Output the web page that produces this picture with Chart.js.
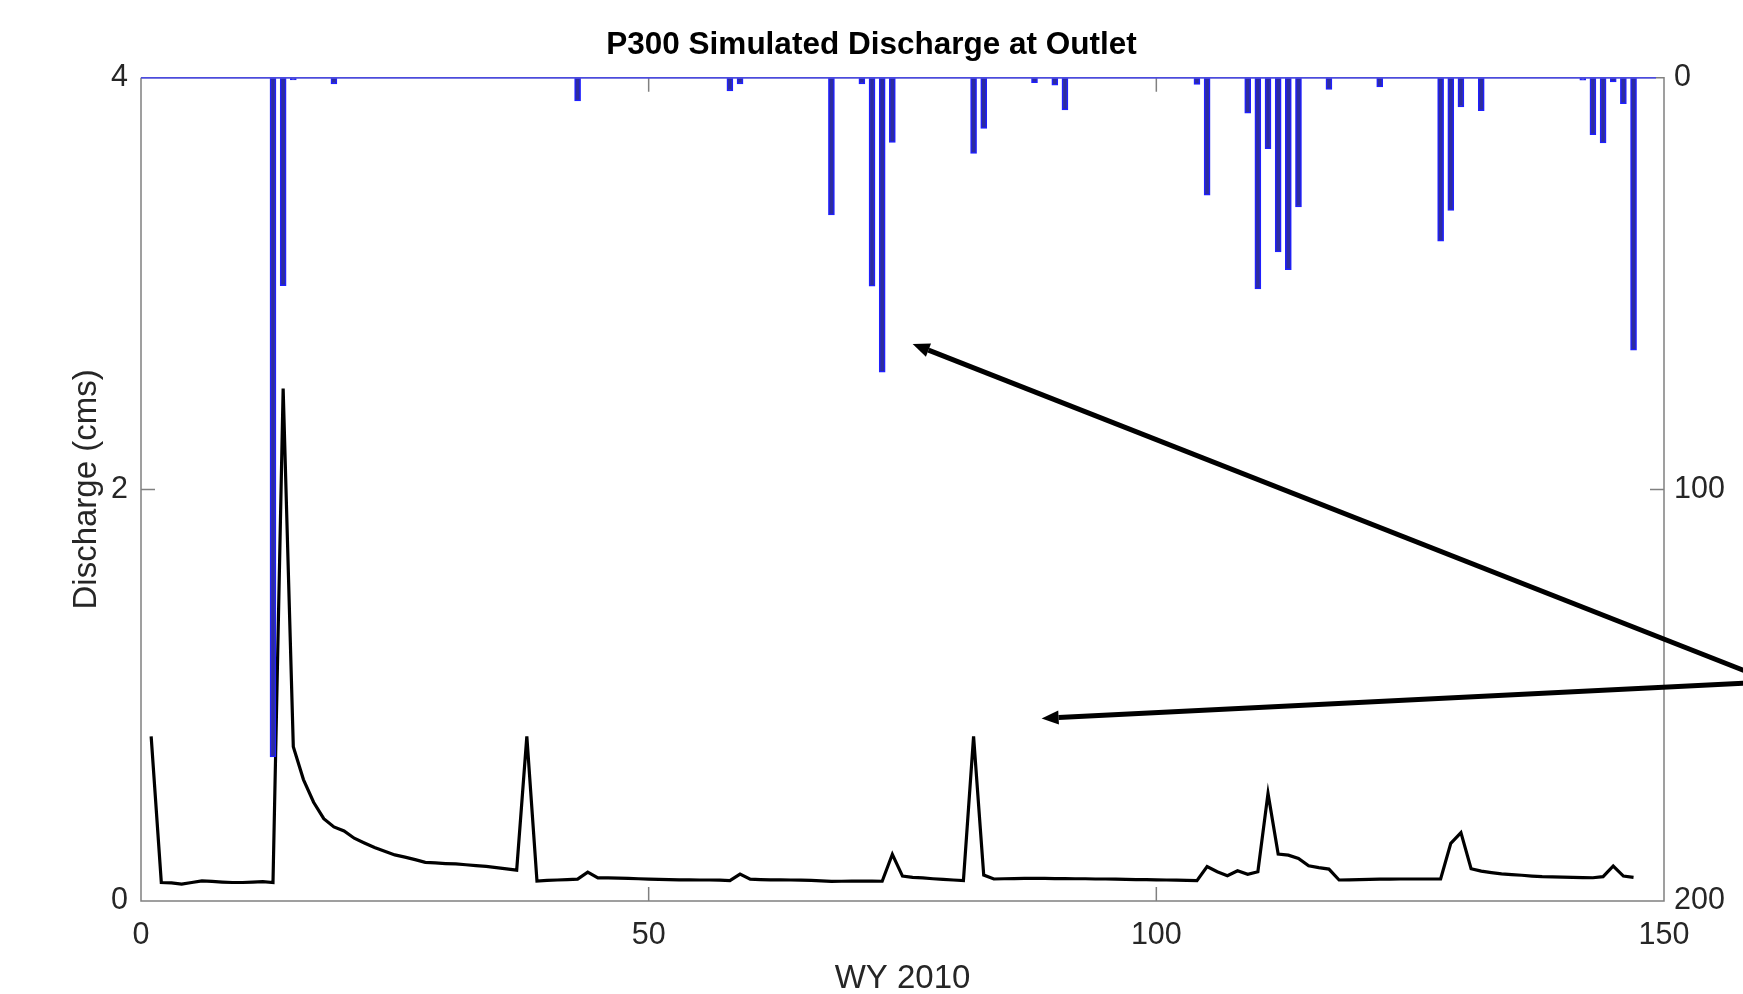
<!DOCTYPE html>
<html lang="en">
<head>
    <meta charset="UTF-8">
    <title>P300 Simulated Discharge at Outlet</title>
    <script src="https://cdn.jsdelivr.net/npm/chart.js"></script>
    <style>
        body { margin: 0; background: #fff; }
        .wrap { width: 1743px; height: 994px; }
    </style>
</head>
<body>

<div class="wrap"><canvas id="dischargeChart"></canvas></div>

<script>
// Simulated discharge (cms), one value per day starting at day 1 of WY 2010
const firstDay = 1;
const discharge = [
    0.80, 0.090, 0.088, 0.082, 0.090, 0.098, 0.095, 0.092, 0.090, 0.090,   // 1-10
    0.092, 0.094, 0.090, 2.49, 0.75, 0.59, 0.48, 0.40, 0.36, 0.34,          // 11-20
    0.305, 0.282, 0.260, 0.242, 0.224, 0.213, 0.201, 0.188, 0.185, 0.182,   // 21-30
    0.180, 0.176, 0.172, 0.168, 0.162, 0.156, 0.150, 0.80, 0.097, 0.100,    // 31-40
    0.102, 0.104, 0.106, 0.140, 0.112, 0.112, 0.111, 0.110, 0.108, 0.106,   // 41-50
    0.105, 0.104, 0.103, 0.103, 0.102, 0.102, 0.101, 0.099, 0.131, 0.106,   // 51-60
    0.104, 0.103, 0.103, 0.102, 0.101, 0.100, 0.098, 0.095, 0.096, 0.097,   // 61-70
    0.097, 0.097, 0.096, 0.227, 0.121, 0.115, 0.112, 0.108, 0.105, 0.102,   // 71-80
    0.099, 0.80, 0.126, 0.107, 0.108, 0.109, 0.110, 0.110, 0.110, 0.109,    // 81-90
    0.109, 0.108, 0.108, 0.107, 0.107, 0.106, 0.105, 0.104, 0.104, 0.103,   // 91-100
    0.102, 0.101, 0.100, 0.099, 0.167, 0.142, 0.123, 0.147, 0.130, 0.142,   // 101-110
    0.523, 0.228, 0.223, 0.207, 0.171, 0.162, 0.155, 0.102, 0.103, 0.104,   // 111-120
    0.105, 0.106, 0.106, 0.107, 0.107, 0.107, 0.107, 0.107, 0.280, 0.332,   // 121-130
    0.157, 0.145, 0.138, 0.132, 0.128, 0.125, 0.121, 0.118, 0.117, 0.116,   // 131-140
    0.115, 0.114, 0.113, 0.118, 0.170, 0.121, 0.115                         // 141-147
];

// Precipitation (right axis, reversed) - only the days that had some
const rainDays = [13, 14, 15, 19, 43, 58, 59, 68, 71, 72, 73, 74, 82, 83, 88, 90, 91,
                  104, 105, 109, 110, 111, 112, 113, 114, 117, 122, 128, 129, 130, 132,
                  142, 143, 144, 145, 146, 147];
const rainAmount = [165, 50.5, 0.5, 1.5, 5.6, 3.2, 1.5, 33.3, 1.5, 50.6, 71.5, 15.7, 18.4, 12.3, 1.2, 1.8, 7.8,
                    1.6, 28.5, 8.6, 51.3, 17.2, 42.3, 46.6, 31.4, 2.8, 2.2, 39.7, 32.2, 7.1, 8.0,
                    0.6, 13.8, 15.8, 1.0, 6.3, 66.2];

const xTicks = [0, 50, 100, 150];
const leftTicks = [0, 2, 4];
const rightTicks = [0, 100, 200];

// annotation arrows, in (day, discharge) units: shared tail off the right edge, two heads
const arrowTail = [160.7, 1.065];
const arrowHeads = [[76.0, 2.707], [88.7, 0.887]];

Chart.defaults.font.family = "'Liberation Sans', Arial, sans-serif";
Chart.defaults.color = '#262626';

// MATLAB style box with inward ticks
const boxTicks = {
    id: 'boxTicks',
    afterDatasetsDraw(chart) {
        const { ctx, chartArea: a, scales } = chart;
        const len = 14;
        ctx.save();
        ctx.lineWidth = 1.5;
        ctx.strokeStyle = '#808080';
        ctx.beginPath();
        ctx.moveTo(a.left, a.top);
        ctx.lineTo(a.left, a.bottom);
        ctx.lineTo(a.right, a.bottom);
        ctx.lineTo(a.right, a.top);
        ctx.lineTo(a.left, a.top);
        xTicks.forEach(v => {
            const px = scales.x.getPixelForValue(v);
            ctx.moveTo(px, a.bottom); ctx.lineTo(px, a.bottom - len);
            ctx.moveTo(px, a.top); ctx.lineTo(px, a.top + len);
        });
        leftTicks.forEach(v => {
            const py = scales.y.getPixelForValue(v);
            ctx.moveTo(a.left, py); ctx.lineTo(a.left + len, py);
        });
        rightTicks.forEach(v => {
            const py = scales.y2.getPixelForValue(v);
            ctx.moveTo(a.right, py); ctx.lineTo(a.right - len, py);
        });
        ctx.stroke();
        // zero-height bars leave a thin blue line along the top
        ctx.strokeStyle = '#3a3aff';
        ctx.lineWidth = 1.2;
        ctx.beginPath();
        ctx.moveTo(a.left, a.top);
        ctx.lineTo(a.right - 8, a.top);
        ctx.stroke();
        ctx.restore();
    }
};

const arrows = {
    id: 'arrows',
    afterDraw(chart) {
        const { ctx, scales } = chart;
        const tx = scales.x.getPixelForValue(arrowTail[0]);
        const ty = scales.y.getPixelForValue(arrowTail[1]);
        ctx.save();
        ctx.strokeStyle = '#000';
        ctx.fillStyle = '#000';
        ctx.lineWidth = 5;
        arrowHeads.forEach(h => {
            const hx = scales.x.getPixelForValue(h[0]);
            const hy = scales.y.getPixelForValue(h[1]);
            const ang = Math.atan2(hy - ty, hx - tx);
            const headLen = 17, headW = 7;
            const bx = hx - headLen * Math.cos(ang);
            const by = hy - headLen * Math.sin(ang);
            ctx.beginPath();
            ctx.moveTo(tx, ty);
            ctx.lineTo(bx, by);
            ctx.stroke();
            ctx.beginPath();
            ctx.moveTo(hx, hy);
            ctx.lineTo(bx + headW * Math.sin(ang), by - headW * Math.cos(ang));
            ctx.lineTo(bx - headW * Math.sin(ang), by + headW * Math.cos(ang));
            ctx.closePath();
            ctx.fill();
        });
        ctx.restore();
    }
};

const ctx = document.getElementById('dischargeChart').getContext('2d');
new Chart(ctx, {
    type: 'bar',
    data: {
        datasets: [{
            type: 'bar',
            label: 'Precipitation',
            data: rainDays.map((d, i) => ({ x: d, y: rainAmount[i] })),
            yAxisID: 'y2',
            backgroundColor: '#2c2ca0',
            borderColor: '#1f1fff',
            borderWidth: 1.5,
            borderSkipped: false,
            barThickness: 6
        }, {
            type: 'line',
            label: 'Discharge',
            data: discharge.map((v, i) => ({ x: firstDay + i, y: v })),
            yAxisID: 'y',
            borderColor: '#000',
            borderWidth: 3.2,
            pointRadius: 0,
            tension: 0,
            fill: false
        }]
    },
    options: {
        responsive: true,
        maintainAspectRatio: false,
        animation: false,
        layout: { padding: 0 },
        plugins: {
            legend: { display: false },
            tooltip: { enabled: false },
            title: {
                display: true,
                text: 'P300 Simulated Discharge at Outlet',
                color: '#000',
                font: { size: 31.5, weight: 'bold' },
                padding: { top: 26, bottom: 14 }
            }
        },
        scales: {
            x: {
                type: 'linear',
                min: 0,
                max: 150,
                offset: false,
                afterBuildTicks: s => { s.ticks = xTicks.map(v => ({ value: v })); },
                afterFit: s => { s.height = 93; },
                grid: { display: false, drawTicks: false, offset: false },
                border: { display: false },
                ticks: { font: { size: 30.5 }, padding: 16, maxRotation: 0 },
                title: { display: true, text: 'WY 2010', font: { size: 33 }, padding: { top: 0, bottom: -5 } }
            },
            y: {
                position: 'left',
                min: 0,
                max: 4,
                afterBuildTicks: s => { s.ticks = leftTicks.map(v => ({ value: v })); },
                afterFit: s => { s.width = 141; },
                grid: { display: false, drawTicks: false },
                border: { display: false },
                ticks: { font: { size: 30.5 }, padding: 13 },
                title: { display: true, text: 'Discharge (cms)', font: { size: 33 }, padding: { top: 67, bottom: 0 } }
            },
            y2: {
                position: 'right',
                reverse: true,
                min: 0,
                max: 200,
                afterBuildTicks: s => { s.ticks = rightTicks.map(v => ({ value: v })); },
                afterFit: s => { s.width = 79; },
                grid: { display: false, drawTicks: false },
                border: { display: false },
                ticks: { font: { size: 30.5 }, padding: 10 }
            }
        }
    },
    plugins: [boxTicks, arrows]
});
</script>
</body>
</html>
